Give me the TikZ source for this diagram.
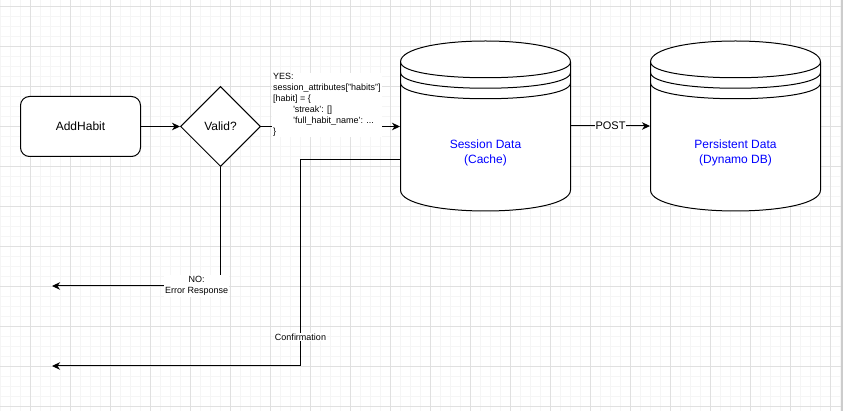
\documentclass[tikz,border=0pt]{standalone}
\usepackage{fontspec}
\setmainfont{Liberation Sans}
\newfontfamily\codefont{Liberation Sans}[Ligatures=TeXOff]
\usetikzlibrary{arrows.meta,shapes.geometric,calc}

% datastore outline: #1 left x, #2 top y (w=170, h=170, dy=21)
\newcommand\dstore[2]{%
  \begin{scope}[shift={(#1,#2)}]
    \draw[fill=white] (0,21) .. controls (0,-7) and (170,-7) .. (170,21)
      -- (170,149) .. controls (170,177) and (0,177) .. (0,149) -- cycle;
    \foreach \o in {0,10.5,21}{
      \draw (0,21+\o) .. controls (0,42+\o) and (170,42+\o) .. (170,21+\o);
    }
  \end{scope}}

\begin{document}
\begin{tikzpicture}[x=1pt,y=-1pt,line width=1pt,
  minorgrid/.style={line width=1pt,draw=gray!8},
  majorgrid/.style={line width=1pt,draw=gray!24},
  proc/.style={draw,fill=white,rounded corners=9pt,minimum width=120pt,minimum height=60pt,inner sep=0pt,font=\fontsize{12}{14.4}\selectfont},
  dec/.style={draw,fill=white,diamond,aspect=1,minimum width=80pt,minimum height=80pt,inner sep=0pt,font=\fontsize{12}{14.4}\selectfont},
  cylnode/.style={minimum width=170pt,minimum height=170pt,inner sep=0pt},
  dbtext/.style={align=center,text=blue,font=\fontsize{12}{15}\selectfont,inner sep=0pt},
  lbl/.style={fill=white,inner sep=1pt,font=\fontsize{9}{10.9}\selectfont},
  arr/.style={-{Stealth[length=8pt,width=7.5pt,inset=2.5pt]}}]

\useasboundingbox (0,0) rectangle (843,411);
\fill[white] (0,0) rectangle (843,411);

% grid
\foreach \x in {0.5,10.5,...,840.5} \draw[minorgrid] (\x,0) -- (\x,411);
\foreach \y in {6.5,16.5,...,406.5} \draw[minorgrid] (0,\y) -- (843,\y);
\foreach \x in {30.5,70.5,...,830.5} \draw[majorgrid] (\x,0) -- (\x,411);
\foreach \y in {6.5,46.5,...,406.5} \draw[majorgrid] (0,\y) -- (843,\y);
\draw[draw=gray!40,line width=1.5pt] (842.2,0) -- (842.2,411);

% shapes
\node[proc] (add) at (80.5,126.5) {AddHabit};
\node[dec] (valid) at (220.5,126.5) {Valid?};

\dstore{400.5}{41}
\node[cylnode] (cache) at (485.5,126) {};
\node[dbtext] (cachetext) at (485.5,153) {Session Data\\(Cache)};

\dstore{650.5}{41}
\node[cylnode] (persist) at (735.5,126) {};
\node[dbtext] (persisttext) at (735.5,153) {Persistent Data\\(Dynamo DB)};

\coordinate (noend) at (52,286);
\coordinate (confend) at (52,366);
\coordinate (cb1) at (300.5,160);
\coordinate (cb2) at (300.5,366);

% connectors
\draw[arr] (add) -- (valid);
\draw[arr] (valid.east) -- node[pos=0,anchor=west,xshift=10.5pt,yshift=21.5pt,lbl,align=left]
  {\codefont YES:\\session\_attributes["habits"]\\{[}habit{]} = \{\\\hspace*{20pt}'streak': {[]}\\\hspace*{20pt}'full\_habit\_name': ...\\\}}
  (valid.east -| cache.west);
\draw[arr] (cache.east) -- node[lbl,font=\fontsize{11}{13}\selectfont] {POST} (persist.west);
\draw[arr] (valid.south) |- node[pos=0.571,lbl,align=center] {NO:\\Error Response} (noend);
\draw[arr] ([yshift=-34pt]cache.west) -- (cb1) -- node[pos=0.86,lbl] {Confirmation} (cb2) -- (confend);

\end{tikzpicture}
\end{document}
